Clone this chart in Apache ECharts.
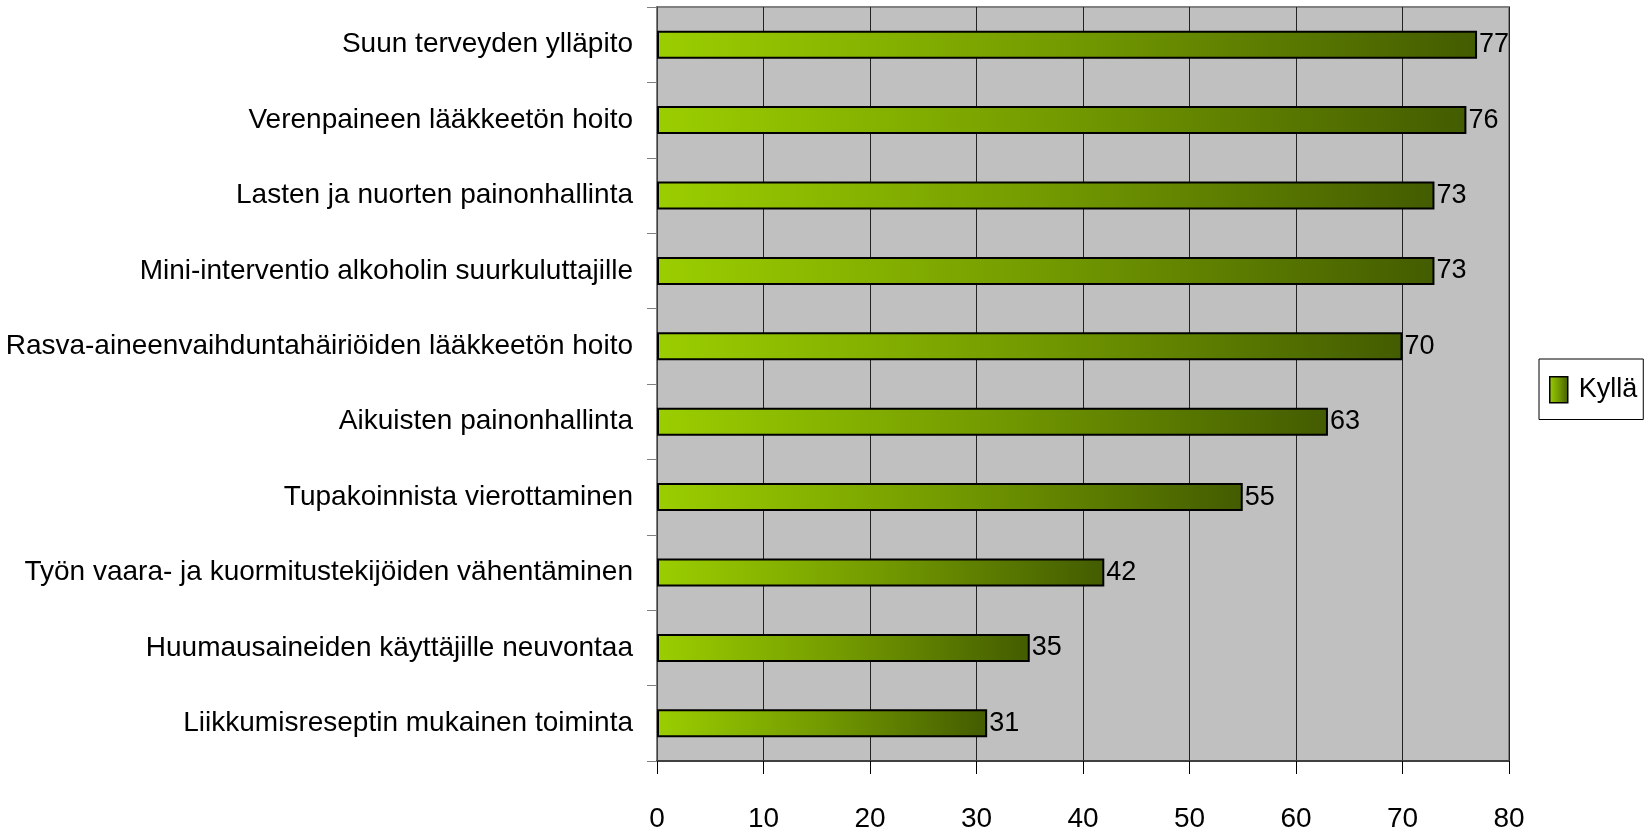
<!DOCTYPE html>
<html><head><meta charset="utf-8">
<script src="https://cdn.jsdelivr.net/npm/echarts@6/dist/echarts.min.js"></script>
<style>html,body{margin:0;padding:0;background:#fff}#c{width:1648px;height:838px}</style>
</head><body><div id="c"></div>
<script>
var categories = ["Suun terveyden ylläpito","Verenpaineen lääkkeetön hoito","Lasten ja nuorten painonhallinta","Mini-interventio alkoholin suurkuluttajille","Rasva-aineenvaihduntahäiriöiden lääkkeetön hoito","Aikuisten painonhallinta","Tupakoinnista vierottaminen","Työn vaara- ja kuormitustekijöiden vähentäminen","Huumausaineiden käyttäjille neuvontaa","Liikkumisreseptin mukainen toiminta"];
var values = [77,76,73,73,70,63,55,42,35,31];
var seriesName = "Kyllä";
var FONT = "'Liberation Sans Narrow','Arial Narrow','Liberation Sans',Arial,sans-serif";
var grad = new echarts.graphic.LinearGradient(0,0,1,0,[{offset:0,color:'#9BCE00'},{offset:0.5,color:'#739A00'},{offset:1,color:'#435C00'}]);
var chart = echarts.init(document.getElementById('c'));
chart.setOption({
  animation:false,
  grid:{left:657,top:7,right:139,bottom:77,outerBoundsMode:'none',containLabel:false,show:true,backgroundColor:'#C0C0C0',borderColor:'#808080',borderWidth:2},
  legend:{show:true,left:1539,top:359,orient:'vertical',backgroundColor:'#fff',borderColor:'#000',borderWidth:1,
    padding:[17,6,16,10],itemWidth:18,itemHeight:26,itemGap:0,
    textStyle:{fontFamily:FONT,fontSize:27,color:'#000',padding:[0,0,0,6]},
    data:[{name:seriesName,icon:'rect',itemStyle:{color:grad,borderColor:'#000',borderWidth:1.5}}]},
  xAxis:{type:'value',min:0,max:80,interval:10,
    axisLine:{show:true,lineStyle:{color:'#404040',width:2}},
    axisTick:{show:true,length:13,lineStyle:{color:'#000',width:1}},
    axisLabel:{fontFamily:FONT,fontSize:28,color:'#000',margin:44},
    splitLine:{show:true,lineStyle:{color:'#222',width:1}}},
  yAxis:{type:'category',data:categories,inverse:true,
    axisLine:{show:true,lineStyle:{color:'#404040',width:1}},
    axisTick:{show:true,length:10,lineStyle:{color:'#808080',width:1}},
    axisLabel:{fontFamily:FONT,fontSize:28,color:'#000',margin:24}},
  series:[{name:seriesName,type:'bar',data:values,barWidth:28,
    itemStyle:{color:grad,borderColor:'#000',borderWidth:2},
    label:{show:true,position:'right',distance:2,fontFamily:FONT,fontSize:27,color:'#000'}}]
});
</script></body></html>
